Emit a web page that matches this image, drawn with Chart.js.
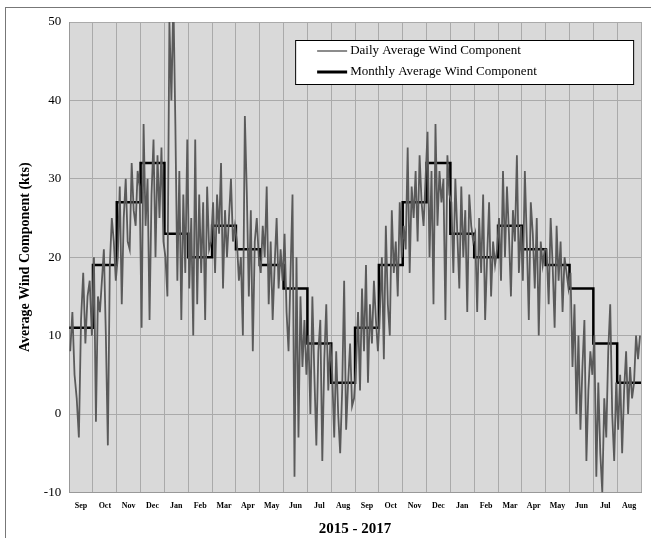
<!DOCTYPE html>
<html><head><meta charset="utf-8">
<script src="https://cdn.jsdelivr.net/npm/chart.js@4"></script>
<style>html,body{margin:0;padding:0;background:#fff}#w{width:651px;height:538px;position:relative}</style>
</head><body><div id="w"><canvas id="c"></canvas></div>
<script>
const monthLabels = ["Sep","Oct","Nov","Dec","Jan","Feb","Mar","Apr","May","Jun","Jul","Aug","Sep","Oct","Nov","Dec","Jan","Feb","Mar","Apr","May","Jun","Jul","Aug"];
const monthlyAvg = [11,19,27,32,23,20,24,21,19,16,9,4,11,19,27,32,23,20,24,21,19,16,9,4];
const dailyByMonth = [
 [8,13,5,2,-3,12,18,9,15,17,10],
 [20,-1,15,13,17,21,10,-4,19,25,22,17],
 [20,29,14,25,30,22,21,32,26,24,31,29],
 [11,37,24,30,12,28,35,20,33,25,34,22],
 [20,15,50,40,53,37,17,31,12,28,18,35],
 [16,25,10,35,14,28,18,27,12,29,21,22],
 [27,18,28,23,32,16,26,20,25,30,22,24],
 [22,17,20,10,38,28,15,26,8,22,25,20],
 [18,24,20,29,14,22,12,19,25,16,21,17],
 [23,13,8,18,28,-8,20,-3,15,6,12,5],
 [10,0,15,5,-4,8,12,-6,7,14,3,9],
 [5,-3,8,0,-5,3,17,-2,4,9,1,2],
 [6,13,3,16,8,19,4,14,9,17,12,8],
 [13,20,7,24,14,10,26,18,22,15,27,20],
 [24,21,34,18,29,25,31,22,33,27,24,30],
 [36,20,31,14,37,24,31,27,30,12,33,28],
 [27,18,30,23,16,29,20,26,13,28,24,22],
 [23,13,25,18,28,12,20,27,15,22,19,21],
 [25,17,31,20,29,23,15,26,22,33,18,24],
 [17,31,22,12,27,23,16,25,10,22,19,21],
 [21,14,25,19,11,24,17,22,13,20,18,16],
 [18,6,14,0,10,-2,6,12,-6,3,8,5],
 [10,-8,4,-5,-10,2,-3,8,14,0,-6,4],
 [-2,5,-5,3,8,0,6,2,4,10,7,10]
];
const yTicks = [-10,0,10,20,30,40,50];

const daily = [];
dailyByMonth.forEach((arr,m)=>arr.forEach((v,i)=>daily.push({x:m+(i+0.5)/arr.length,y:v})));
const monthly = monthlyAvg.map((v,m)=>({x:m,y:v}));
monthly.push({x:24,y:monthlyAvg[monthlyAvg.length-1]});

const bgPlugin={id:'bg',beforeDraw(c){const a=c.chartArea,x=c.ctx;x.save();x.fillStyle='#d9d9d9';x.fillRect(a.left,a.top,a.right-a.left,a.bottom-a.top);x.restore();},
afterDraw(c){const x=c.ctx,a=c.chartArea;x.save();x.strokeStyle='#777';x.lineWidth=1;x.strokeRect(5.5,7.5,650,540);
 const lx=a.left+226,ly=a.top+18,w=338,h=44;x.fillStyle='#fff';x.fillRect(lx,ly,w,h);x.strokeStyle='#000';x.lineWidth=1;x.strokeRect(lx+.5,ly+.5,w,h);
 x.font='13px "Liberation Serif"';x.textBaseline='middle';
 const items=[['Daily Average Wind Component','#666',1.5],['Monthly Average Wind Component','#000',3]];
 items.forEach((it,i)=>{const yy=ly+11+i*21;x.strokeStyle=it[1];x.lineWidth=it[2];x.beginPath();x.moveTo(lx+22,yy);x.lineTo(lx+52,yy);x.stroke();x.fillStyle='#000';x.fillText(it[0],lx+55,yy);});
 x.restore();}};

new Chart(document.getElementById('c'),{
 type:'line',
 data:{datasets:[
  {label:'Daily Average Wind Component',data:daily,borderColor:'#5a5a5a',borderWidth:1.8,pointRadius:0,tension:0},
  {label:'Monthly Average Wind Component',data:monthly,borderColor:'#000',borderWidth:2.5,pointRadius:0,stepped:'before'}
 ]},
 options:{responsive:true,maintainAspectRatio:false,animation:false,
  layout:{padding:{left:13,right:10,top:22,bottom:0}},
  plugins:{legend:{display:false},tooltip:{enabled:false}},
  scales:{
   x:{type:'linear',min:0,max:24,border:{color:'#999'},
    grid:{color:'#aaa',drawTicks:false},
    afterBuildTicks:s=>{s.ticks=monthLabels.map((l,i)=>({value:i})).concat([{value:24}]);},
    ticks:{autoSkip:false,maxRotation:0,padding:9,labelOffset:11.9,color:'#000',font:{family:'Liberation Serif',size:8,weight:'bold'},callback:(v,i)=>monthLabels[i]||''},
    title:{display:true,text:'2015 - 2017',color:'#000',font:{family:'Liberation Serif',size:15,weight:'bold'},padding:{top:0,bottom:0}}},
   y:{min:-10,max:50,border:{color:'#999'},
    afterBuildTicks:s=>{s.ticks=yTicks.map(v=>({value:v}));},
    grid:{color:'#aaa',drawTicks:false},
    ticks:{padding:8,color:'#000',font:{family:'Liberation Serif',size:13}},
    title:{display:true,text:'Average Wind Component (kts)',color:'#000',font:{family:'Liberation Serif',size:14,weight:'bold'},padding:{bottom:2}}}
  }}
 ,plugins:[bgPlugin]});
</script></body></html>
